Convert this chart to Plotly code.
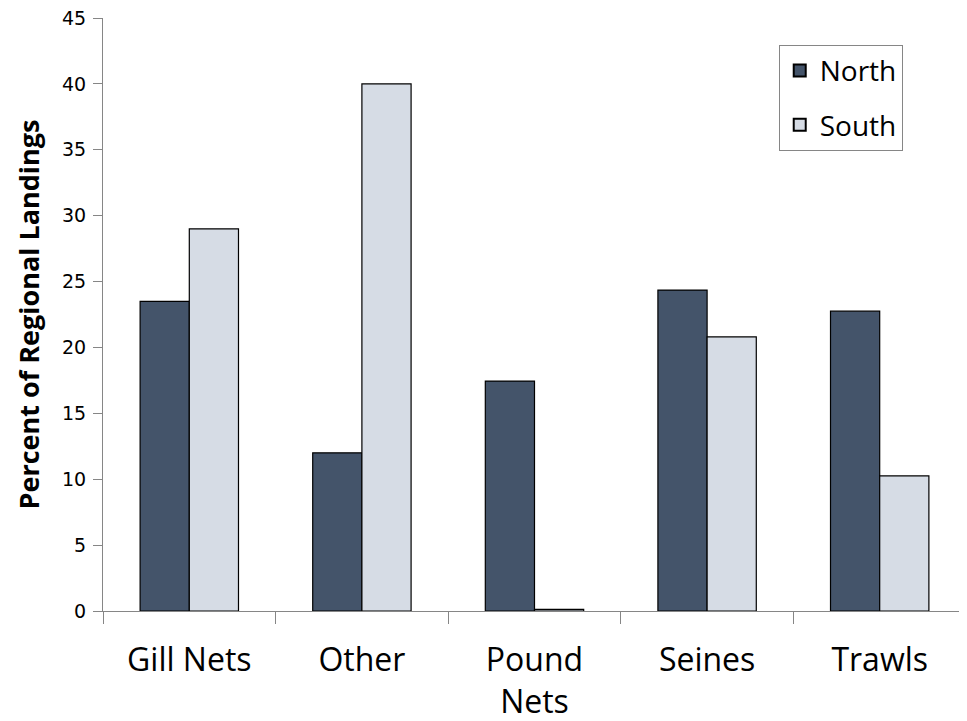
import plotly.graph_objects as go

categories = ["Gill Nets", "Other", "Pound Nets", "Seines", "Trawls"]
tick_labels = ["Gill Nets", "Other", "Pound<br>Nets", "Seines", "Trawls"]
north = [23.5, 12.0, 17.45, 24.35, 22.75]
south = [29.0, 40.0, 0.12, 20.8, 10.25]
y_ticks = [0, 5, 10, 15, 20, 25, 30, 35, 40, 45]

fig = go.Figure()
fig.add_trace(go.Bar(name="North", x=categories, y=north, legendgroup="n",
                     marker=dict(color="#44546A", line=dict(color="#000000", width=1.2))))
fig.add_trace(go.Bar(name="South", x=categories, y=south, legendgroup="s",
                     marker=dict(color="#D6DCE5", line=dict(color="#000000", width=1.2))))

fig.update_layout(
    width=959, height=713,
    margin=dict(l=95, r=1, t=10, b=110),
    paper_bgcolor="white", plot_bgcolor="white",
    barmode="group", bargap=0.43, bargroupgap=0,
    legend=dict(x=0.783, y=0.955, xanchor="left", yanchor="top",
                bgcolor="white", bordercolor="#868686", borderwidth=1,
                font=dict(family="Open Sans", size=28, color="#000000"),
                itemsizing="constant", tracegroupgap=15),
    xaxis=dict(tickvals=categories, ticktext=tick_labels, automargin=False,
               tickson="boundaries", ticks="outside", ticklen=12, tickcolor="#868686",
               showline=True, linecolor="#868686", linewidth=1,
               tickfont=dict(family="Open Sans", size=32, color="#000000"),
               ticklabelstandoff=21, ticklabeloverflow="allow",
               showgrid=False),
    yaxis=dict(range=[0, 45], tickvals=y_ticks, ticks="outside", ticklen=9,
               automargin=False, ticklabeloverflow="allow", ticklabelstandoff=3,
               tickcolor="#868686", showline=True, linecolor="#868686", linewidth=1,
               tickfont=dict(family="DejaVu Sans", size=19, color="#000000"),
               showgrid=False, zeroline=False,
               title=dict(text="<b>Percent of Regional Landings</b>",
                          font=dict(family="Open Sans", size=27, color="#000000"),
                          standoff=14)),
)

fig.write_html("out.html")
